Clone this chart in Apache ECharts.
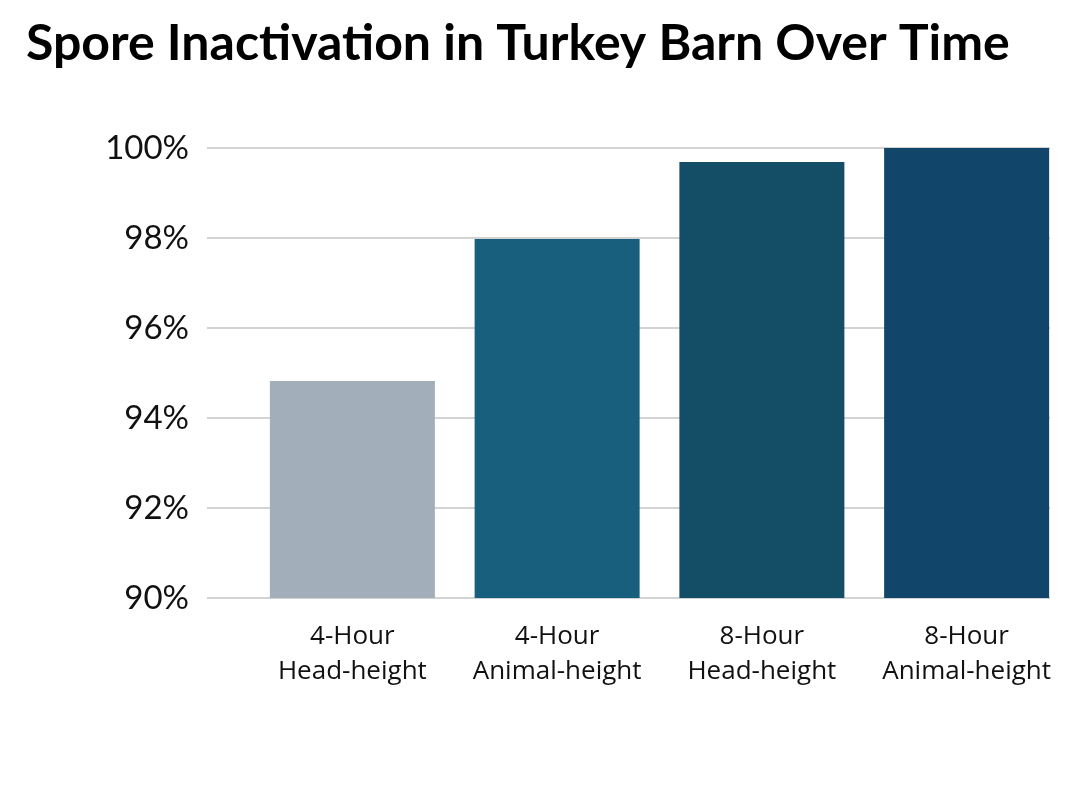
<!DOCTYPE html>
<html><head><meta charset="utf-8">
<script src="https://cdn.jsdelivr.net/npm/echarts@6/dist/echarts.min.js"></script>
<style>html,body{margin:0;padding:0;background:#fff}#c{width:1081px;height:800px}</style>
</head><body><div id="c"></div>
<script>
const title = 'Spore Inactivation in Turkey Barn Over Time';
const categories = ['4-Hour\nHead-height', '4-Hour\nAnimal-height', '8-Hour\nHead-height', '8-Hour\nAnimal-height'];
const values = [94.82, 97.98, 99.69, 100];
const barColors = ['#a2aeb9', '#185f7e', '#134e66', '#11456a'];
const yMin = 90, yMax = 100, yStep = 2;

const chart = echarts.init(document.getElementById('c'), null, {renderer: 'canvas'});
const font = 'Lato, "Open Sans", sans-serif';
chart.setOption({
  animation: false,
  title: {text: title, left: 21, top: 14, textStyle: {fontFamily: font, fontWeight: 'bold', fontSize: 50, color: '#000'}},
  grid: [
    {left: 207, right: 31, top: 148, bottom: 202, containLabel: false},
    {left: 250, right: 12, top: 148, bottom: 202, containLabel: false}
  ],
  xAxis: [
    {gridIndex: 0, type: 'category', data: categories, show: false},
    {gridIndex: 1, type: 'category', data: categories,
     axisLine: {show: false}, axisTick: {show: false},
     axisLabel: {interval: 0, margin: 21, fontFamily: '"Open Sans", Lato, sans-serif', fontSize: 26, color: '#111', lineHeight: 35}}
  ],
  yAxis: [
    {gridIndex: 0, type: 'value', min: yMin, max: yMax, interval: yStep,
     axisLine: {show: false}, axisTick: {show: false},
     splitLine: {lineStyle: {color: '#d3d3d3', width: 2}},
     axisLabel: {formatter: '{value}%', margin: 18, fontFamily: font, fontSize: 33, color: '#111'}},
    {gridIndex: 1, type: 'value', min: yMin, max: yMax, interval: yStep, show: false, splitLine: {show: false}}
  ],
  series: [{
    type: 'bar', xAxisIndex: 1, yAxisIndex: 1, barWidth: 165,
    data: values.map((v, i) => ({value: v, itemStyle: {color: barColors[i]}}))
  }]
});
</script></body></html>
